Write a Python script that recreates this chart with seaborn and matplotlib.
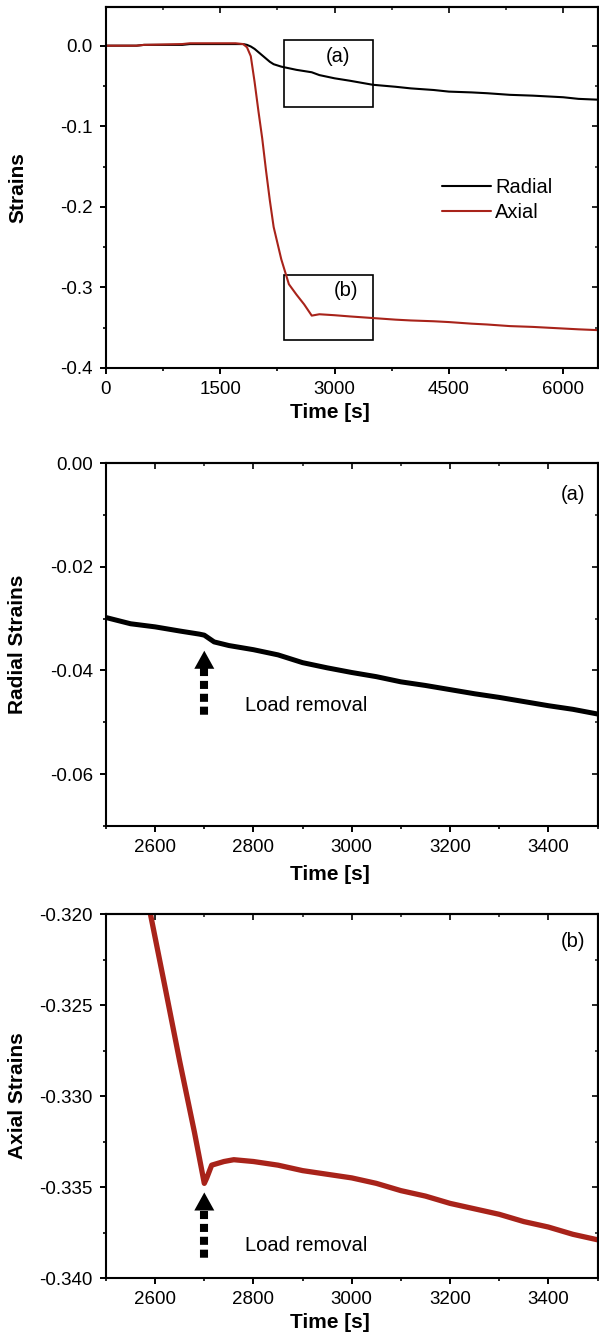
import pandas as pd
import seaborn as sns
import matplotlib
matplotlib.use("Agg")
import matplotlib.pyplot as plt
from matplotlib.patches import Rectangle
from matplotlib.ticker import MultipleLocator, FormatStrFormatter, NullFormatter

# overview curves (Time [s] vs strain)
time_all = [0, 400, 500, 1000, 1100, 1500, 1700, 1800, 1850, 1900, 1950, 2000,
            2050, 2100, 2150, 2200, 2300, 2400, 2500, 2600, 2700, 2800, 3000,
            3200, 3500, 3800, 4000, 4300, 4500, 4800, 5000, 5300, 5600, 6000,
            6200, 6450]
radial_all = [0, 0, 0.001, 0.001, 0.002, 0.002, 0.002, 0.002, 0.001, -0.001,
              -0.004, -0.008, -0.012, -0.016, -0.020, -0.023, -0.026, -0.028,
              -0.030, -0.0315, -0.033, -0.0365, -0.0405, -0.0435, -0.0485,
              -0.051, -0.053, -0.055, -0.057, -0.058, -0.059, -0.061, -0.062,
              -0.064, -0.066, -0.067]
axial_all = [0, 0, 0.001, 0.002, 0.003, 0.003, 0.003, 0.002, -0.002, -0.013,
             -0.045, -0.081, -0.115, -0.155, -0.192, -0.225, -0.265, -0.296,
             -0.309, -0.321, -0.335, -0.3333, -0.3345, -0.336, -0.338, -0.340,
             -0.341, -0.342, -0.343, -0.345, -0.346, -0.348, -0.349, -0.351,
             -0.352, -0.353]

# zoom (a): radial strains around load removal
time_a = [2500, 2550, 2600, 2650, 2690, 2700, 2720, 2750, 2800, 2850, 2900,
          2950, 3000, 3050, 3100, 3150, 3200, 3250, 3300, 3350, 3400, 3450, 3500]
radial_a = [-0.0298, -0.0310, -0.0316, -0.0324, -0.0330, -0.0332, -0.0345,
            -0.0352, -0.0360, -0.0370, -0.0385, -0.0395, -0.0404, -0.0412,
            -0.0422, -0.0429, -0.0437, -0.0445, -0.0452, -0.0460, -0.0468,
            -0.0475, -0.0484]

# zoom (b): axial strains around load removal
time_b = [2580, 2620, 2650, 2680, 2700, 2705, 2715, 2740, 2760, 2800, 2850,
          2900, 2950, 3000, 3050, 3100, 3150, 3200, 3250, 3300, 3350, 3400,
          3450, 3500]
axial_b = [-0.3186, -0.3240, -0.3281, -0.3320, -0.3348, -0.3345, -0.3338,
           -0.3336, -0.3335, -0.3336, -0.3338, -0.3341, -0.3343, -0.3345,
           -0.3348, -0.3352, -0.3355, -0.3359, -0.3362, -0.3365, -0.3369,
           -0.3372, -0.3376, -0.3379]

load_removal_t = 2700
axial_color = "#a8231a"

sns.set_style("ticks")
plt.rcParams["font.family"] = ["Liberation Sans", "DejaVu Sans"]
plt.rcParams["axes.unicode_minus"] = False
plt.rcParams["text.color"] = "black"
plt.rcParams["axes.labelcolor"] = "black"

TICK_FS = 13.5
LABEL_FS = 15
TEXT_FS = 14.5

W, H = 599, 1332
fig = plt.figure(figsize=(W / 100, H / 100), dpi=100)


def make_axes(top_px, bottom_px):
    return fig.add_axes([106 / W, 1 - bottom_px / H, (597.5 - 106) / W,
                         (bottom_px - top_px) / H])


def style_axes(ax, xmaj, xmin, ymaj, ymin, yfmt, xlabel_y):
    for s in ax.spines.values():
        s.set_visible(True)
        s.set_linewidth(1.5)
        s.set_color("black")
    ax.xaxis.set_major_locator(MultipleLocator(xmaj))
    ax.xaxis.set_minor_locator(MultipleLocator(xmin))
    ax.yaxis.set_major_locator(MultipleLocator(ymaj))
    ax.yaxis.set_minor_locator(MultipleLocator(ymin))
    ax.yaxis.set_major_formatter(FormatStrFormatter(yfmt))
    ax.tick_params(which="major", direction="out", length=4.5, width=1.4,
                   labelsize=TICK_FS, pad=5, colors="black")
    ax.tick_params(which="minor", direction="out", length=2.5, width=1.2,
                   colors="black")
    # mirrored ticks on top and right, pointing inwards
    top = ax.secondary_xaxis("top")
    top.xaxis.set_major_locator(MultipleLocator(xmaj))
    top.xaxis.set_minor_locator(MultipleLocator(xmin))
    top.xaxis.set_major_formatter(NullFormatter())
    top.tick_params(which="major", direction="in", length=4.5, width=1.4)
    top.tick_params(which="minor", direction="in", length=2.5, width=1.2)
    right = ax.secondary_yaxis("right")
    right.yaxis.set_major_locator(MultipleLocator(ymaj))
    right.yaxis.set_minor_locator(MultipleLocator(ymin))
    right.yaxis.set_major_formatter(NullFormatter())
    right.tick_params(which="major", direction="in", length=4.5, width=1.4)
    right.tick_params(which="minor", direction="in", length=2.5, width=1.2)
    for sec in (top, right):
        for s in sec.spines.values():
            s.set_linewidth(1.5)
    ax.set_xlabel("Time [s]", fontsize=LABEL_FS, fontweight="bold")
    ax.xaxis.set_label_coords(0.455, xlabel_y)
    ax.yaxis.set_label_coords(-0.16, 0.5)


def load_arrow(ax, tip, head_base, bottom):
    ax.plot([load_removal_t, load_removal_t], [head_base, bottom], color="black",
            lw=5.8, linestyle=(0, (1, 0.6)), dash_capstyle="butt")
    ax.annotate("", xy=(load_removal_t, tip), xytext=(load_removal_t, head_base),
                arrowprops=dict(arrowstyle="-|>,head_length=0.65,head_width=0.36",
                                mutation_scale=20, color="black", lw=0,
                                shrinkA=0, shrinkB=0))


# panel 1: overview
ax1 = make_axes(7, 368)
df_all = pd.DataFrame({
    "Time": time_all * 2,
    "Strain": radial_all + axial_all,
    "Series": ["Radial"] * len(time_all) + ["Axial"] * len(time_all),
})
sns.lineplot(data=df_all, x="Time", y="Strain", hue="Series",
             palette={"Radial": "black", "Axial": axial_color},
             estimator=None, sort=False, lw=1.5, ax=ax1)
ax1.set_xlim(0, 6450)
ax1.set_ylim(-0.4, 0.048)
style_axes(ax1, 1500, 750, 0.1, 0.05, "%.1f", -0.097)
ax1.set_ylabel("Strains", fontsize=LABEL_FS, fontweight="bold")
handles, labels = ax1.get_legend_handles_labels()
ax1.legend(handles, labels, loc="center left", bbox_to_anchor=(0.684, 0.465),
           frameon=False, fontsize=TEXT_FS, borderpad=0, borderaxespad=0,
           handlelength=2.44, handletextpad=0.2, labelspacing=0.3)
ax1.add_patch(Rectangle((2330, -0.0765), 1170, 0.0831, fill=False,
                        edgecolor="black", lw=1.2))
ax1.add_patch(Rectangle((2330, -0.365), 1170, 0.081, fill=False,
                        edgecolor="black", lw=1.2))
ax1.text(3043, -0.014, "(a)", fontsize=TEXT_FS, ha="center", va="center")
ax1.text(3143, -0.304, "(b)", fontsize=TEXT_FS, ha="center", va="center")

# panel 2: radial zoom
ax2 = make_axes(463, 826)
sns.lineplot(x=time_a, y=radial_a, color="black", lw=3.6, estimator=None,
             sort=False, ax=ax2)
ax2.set_xlim(2500, 3500)
ax2.set_ylim(-0.07, 0.0)
style_axes(ax2, 200, 100, 0.02, 0.01, "%.2f", -0.107)
ax2.set_ylabel("Radial Strains", fontsize=LABEL_FS, fontweight="bold")
load_arrow(ax2, -0.0362, -0.0396, -0.0487)
ax2.text(2782, -0.0468, "Load removal", fontsize=TEXT_FS, ha="left", va="center")
ax2.text(3450, -0.0061, "(a)", fontsize=TEXT_FS, ha="center", va="center")

# panel 3: axial zoom
ax3 = make_axes(914, 1278)
sns.lineplot(x=time_b, y=axial_b, color=axial_color, lw=3.8, estimator=None,
             sort=False, ax=ax3)
ax3.set_xlim(2500, 3500)
ax3.set_ylim(-0.340, -0.320)
style_axes(ax3, 200, 100, 0.005, 0.0025, "%.3f", -0.096)
ax3.set_ylabel("Axial Strains", fontsize=LABEL_FS, fontweight="bold")
load_arrow(ax3, -0.3353, -0.3363, -0.3390)
ax3.text(2782, -0.3382, "Load removal", fontsize=TEXT_FS, ha="left", va="center")
ax3.text(3450, -0.3215, "(b)", fontsize=TEXT_FS, ha="center", va="center")

fig.savefig("out.png", dpi=100)
